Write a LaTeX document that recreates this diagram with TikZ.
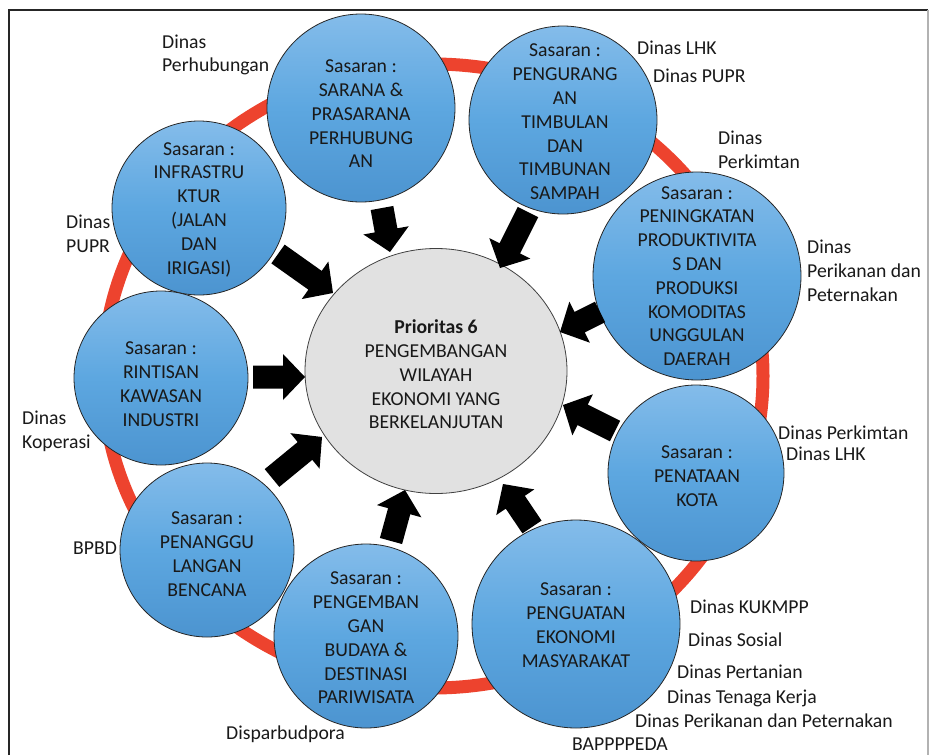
\documentclass[tikz,border=0pt]{standalone}
\usepackage{fontspec}
\setmainfont{Carlito}
\usetikzlibrary{calc,shapes.geometric}
\definecolor{ringred}{RGB}{237,67,46}
\definecolor{btop}{RGB}{132,188,234}
\definecolor{bmid}{RGB}{93,167,224}
\definecolor{bbot}{RGB}{76,148,208}
\definecolor{cgrey}{RGB}{225,225,225}
\definecolor{txt}{RGB}{25,25,25}
\newcommand\blockarrow[3]{%
  \coordinate (#3b) at ($(#2)!22pt!(#1)$);
  \fill[arrowfill] ($(#1)!11.5pt!90:(#2)$) -- ($(#3b)!11.5pt!-90:(#1)$) -- ($(#3b)!23pt!-90:(#1)$) -- (#2)
    -- ($(#3b)!23pt!90:(#1)$) -- ($(#3b)!11.5pt!90:(#1)$) -- ($(#1)!11.5pt!-90:(#2)$) -- cycle;}
\begin{document}
\begin{tikzpicture}[x=1pt,y=-1pt,
  goal/.style={circle, draw=black!85, line width=0.8pt, top color=btop, bottom color=bbot, middle color=bmid, inner sep=0pt},
  gtext/.style={align=center, font=\fontsize{19.7}{23.8}\selectfont, text=txt, inner sep=0pt},
  lbl/.style={align=left, anchor=west, font=\fontsize{19.7}{23.8}\selectfont, text=txt, inner sep=0pt},
  ring/.style={draw=ringred, line width=13pt},
  arrowfill/.style={fill=black},
]
\useasboundingbox (0,0) rectangle (929,755);
% frame
\draw[line width=2pt, black!85] (9,755) -- (9,10) -- (928,10);
\draw[line width=1.2pt, black!30] (928,10) -- (928,755);
% ring
\draw[ring] (433,376) ellipse [x radius=330, y radius=312];
% satellites
\node[goal, minimum size=188pt] (s1) at (361,108) {};
\node[gtext] (s1t) at (361,114) {Sasaran :\\SARANA \&\\PRASARANA\\PERHUBUNG\\AN};
\node[goal, minimum size=188pt] (s2) at (563,120) {};
\node[gtext] (s2t) at (565,122) {Sasaran :\\PENGURANG\\AN\\TIMBULAN\\DAN\\TIMBUNAN\\SAMPAH};
\node[goal, minimum size=174pt] (s3) at (199,208) {};
\node[gtext] (s3t) at (199,209.5) {Sasaran :\\INFRASTRU\\KTUR\\(JALAN\\DAN\\IRIGASI)};
\node[goal, minimum size=208pt] (s4) at (697,276) {};
\node[gtext] (s4t) at (697,276) {Sasaran :\\PENINGKATAN\\PRODUKTIVITA\\S DAN\\PRODUKSI\\KOMODITAS\\UNGGULAN\\DAERAH};
\node[goal, minimum size=174pt] (s5) at (161,378) {};
\node[gtext] (s5t) at (161,384) {Sasaran :\\RINTISAN\\KAWASAN\\INDUSTRI};
\node[goal, minimum size=176pt] (s6) at (696,473) {};
\node[gtext] (s6t) at (697,476) {Sasaran :\\PENATAAN\\KOTA};
\node[goal, minimum size=174pt] (s7) at (207,550) {};
\node[gtext] (s7t) at (207,554) {Sasaran :\\PENANGGU\\LANGAN\\BENCANA};
\node[goal, minimum size=184pt] (s8) at (366,636) {};
\node[gtext] (s8t) at (366,638) {Sasaran :\\PENGEMBAN\\GAN\\BUDAYA \&\\DESTINASI\\PARIWISATA};
\node[goal, minimum size=208pt] (s9) at (576,624) {};
\node[gtext] (s9t) at (576,625) {Sasaran :\\PENGUATAN\\EKONOMI\\MASYARAKAT};
% centre
\node[ellipse, draw=black!75, line width=0.8pt, fill=cgrey, minimum width=262pt, minimum height=245pt, inner sep=0pt] (c) at (436,371) {};
\node[gtext] (ct) at (436,374.5) {\textbf{Prioritas 6}\\PENGEMBANGAN\\WILAYAH\\EKONOMI YANG\\BERKELANJUTAN};
% arrows
\coordinate (a1s) at (382,208); \coordinate (a1e) at (390,252);
\coordinate (a2s) at (528,212); \coordinate (a2e) at (500,268);
\coordinate (a3s) at (278,254); \coordinate (a3e) at (333,293);
\coordinate (a4s) at (600,312); \coordinate (a4e) at (560,332);
\coordinate (a5s) at (253,377); \coordinate (a5e) at (305,377);
\coordinate (a6s) at (615,431); \coordinate (a6e) at (563,405);
\coordinate (a7s) at (272,478); \coordinate (a7e) at (322,437);
\coordinate (a8s) at (391,541); \coordinate (a8e) at (405,490);
\coordinate (a9s) at (532,527); \coordinate (a9e) at (503,484);
\blockarrow{a1s}{a1e}{a1}
\blockarrow{a2s}{a2e}{a2}
\blockarrow{a3s}{a3e}{a3}
\blockarrow{a4s}{a4e}{a4}
\blockarrow{a5s}{a5e}{a5}
\blockarrow{a6s}{a6e}{a6}
\blockarrow{a7s}{a7e}{a7}
\blockarrow{a8s}{a8e}{a8}
\blockarrow{a9s}{a9e}{a9}
% labels
\node[lbl] (l1) at (162,55) {Dinas\\Perhubungan};
\node[lbl] (l2) at (637,48) {Dinas LHK};
\node[lbl] (l3) at (653,76) {Dinas PUPR};
\node[lbl] (l4) at (718,150) {Dinas\\Perkimtan};
\node[lbl] (l5) at (807,271) {Dinas\\Perikanan dan\\Peternakan};
\node[lbl] (l6) at (66,234) {Dinas\\PUPR};
\node[lbl] (l7) at (22,431) {Dinas\\Koperasi};
\node[lbl] (l8) at (778,433) {Dinas Perkimtan};
\node[lbl] (l9) at (786,454) {Dinas LHK};
\node[lbl] (l10) at (73,548) {BPBD};
\node[lbl] (l11) at (226,734) {Disparbudpora};
\node[lbl] (l12) at (690,607) {Dinas KUKMPP};
\node[lbl] (l13) at (688,640) {Dinas Sosial};
\node[lbl] (l14) at (677,672) {Dinas Pertanian};
\node[lbl] (l15) at (667,698) {Dinas Tenaga Kerja};
\node[lbl] (l16) at (635,721) {Dinas Perikanan dan Peternakan};
\node[lbl] (l17) at (572,744) {BAPPPPEDA};
\end{tikzpicture}
\end{document}
